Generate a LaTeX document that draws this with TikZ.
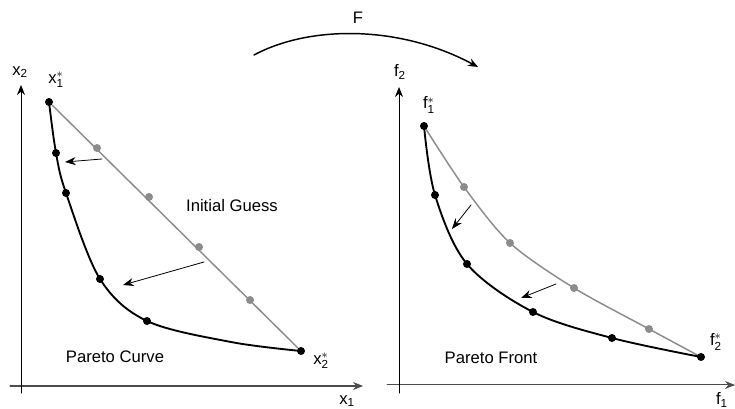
\documentclass[tikz,border=0pt]{standalone}
\usepackage{fontspec}
\setmainfont{Liberation Sans}
\setmathsf{Liberation Sans}
\usetikzlibrary{arrows.meta,backgrounds}

\newcommand{\starvar}[2]{$\mathsf{#1}^{*}_{\mathsf{#2}}$}

\begin{document}
\begin{tikzpicture}[>={Stealth[length=7.5pt,width=6pt]}, x=0.75pt, y=-0.75pt, line join=round, line cap=round,
	every node/.style={font=\fontsize{12.5}{15}\selectfont},
	pt/.style={circle, fill=black, inner sep=0pt, minimum size=6pt},
	gpt/.style={pt, fill=black!45},
	axis/.style={line width=0.75pt, ->},
	guess/.style={line width=1.1pt, black!45},
	front/.style={line width=1.4pt, black},
	move/.style={line width=0.6pt, ->, >={Stealth[length=8pt,width=6pt]}}]

	\useasboundingbox (0,0) rectangle (735,409);

	% left: design space
	\coordinate (xo) at (21,393);
	\coordinate (xyt) at (21,85);
	\coordinate (xxl) at (10,386);
	\coordinate (xxt) at (363,386);
	\draw[axis, black!70] (xxl) -- (xxt);
	\draw[axis] (xo) -- (xyt);
	\node (lx1) at (347,401) {x\textsubscript{1}};
	\node (lx2) at (20,72) {x\textsubscript{2}};

	\node[pt] (xa) at (49,102) {};
	\node[pt] (xb) at (301,351) {};
	\foreach \n/\p in {g1/{97,148}, g2/{149,197}, g3/{199,247}, g4/{250,300}}
		\node[gpt] (x\n) at (\p) {};
	\foreach \n/\p in {c1/{56,153}, c2/{66,193}, c3/{100,279}, c4/{147,321}}
		\node[pt] (x\n) at (\p) {};

	\begin{scope}[on background layer]
		\draw[guess] (xa) -- (xb);
		\draw[front] plot[smooth, tension=0.55] coordinates {(xa) (xc1) (xc2) (xc3) (xc4) (231,342) (xb)};
	\end{scope}

	\coordinate (xm1) at (102,159);
	\coordinate (xm2) at (204,262);
	\draw[move] (xm1) -- (65,162);
	\draw[move] (xm2) -- (123,285);

	\node (xs1) at (56,80) {\starvar{x}{1}};
	\node (xs2) at (321,361) {\starvar{x}{2}};
	\node (guesslbl) at (232,206) {Initial Guess};
	\node (curvelbl) at (115,357) {Pareto Curve};

	% mapping
	\coordinate (fa) at (254,55);
	\coordinate (fb) at (478,67);
	\draw[line width=1.1pt, ->] (fa) .. controls (310,25) and (400,25) .. (fb);
	\node (F) at (358,18) {F};

	% right: objective space
	\coordinate (fo) at (399,393);
	\coordinate (fyt) at (399,87);
	\coordinate (fxl) at (387,385);
	\coordinate (fxt) at (735,385);
	\draw[axis, black!70] (fxl) -- (fxt);
	\draw[axis] (fo) -- (fyt);
	\node (lf1) at (722,400) {f\textsubscript{1}};
	\node (lf2) at (400,72) {f\textsubscript{2}};

	\node[pt] (fa1) at (424,126) {};
	\node[pt] (fb1) at (701,357) {};
	\foreach \n/\p in {g1/{464,187}, g2/{510,243}, g3/{574,288}, g4/{649,329}}
		\node[gpt] (f\n) at (\p) {};
	\foreach \n/\p in {c1/{435,195}, c2/{467,264}, c3/{533,312}, c4/{612,338}}
		\node[pt] (f\n) at (\p) {};

	\begin{scope}[on background layer]
		\draw[guess] plot[smooth, tension=0.5] coordinates {(fa1) (fg1) (fg2) (fg3) (fg4) (fb1)};
		\draw[front] plot[smooth, tension=0.55] coordinates {(fa1) (fc1) (fc2) (fc3) (fc4) (fb1)};
	\end{scope}

	\coordinate (fm1) at (471,205);
	\coordinate (fm2) at (556,284);
	\draw[move] (fm1) -- (452,229);
	\draw[move] (fm2) -- (521,298);

	\node (fs1) at (429,105) {\starvar{f}{1}};
	\node (fs2) at (716,342) {\starvar{f}{2}};
	\node (frontlbl) at (491,358) {Pareto Front};

\end{tikzpicture}
\end{document}
